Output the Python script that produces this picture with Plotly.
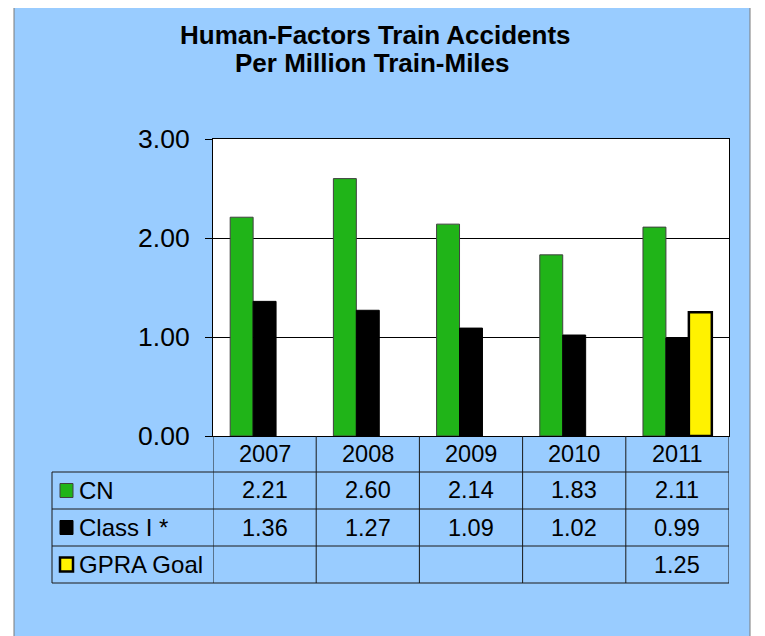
import plotly.graph_objects as go

# ---- data ----
years = ["2007", "2008", "2009", "2010", "2011"]
cn = [2.21, 2.60, 2.14, 1.83, 2.11]
class1 = [1.36, 1.27, 1.09, 1.02, 0.99]
gpra = [None, None, None, None, 1.25]
series_names = ["CN", "Class I *", "GPRA Goal"]
y_ticks = [0, 1, 2, 3]
title_lines = ["Human-Factors Train Accidents", "Per Million Train-Miles"]

# ---- style ----
W, H = 765, 636
OFF = 8  # page body margin
SL, SR, ST, SB = 213, 729, 139, 436   # plot area in screen pixels
L, R, T, B = SL - OFF, SR - OFF, ST - OFF, SB - OFF
GREEN, BLACK, YELLOW = "#20B418", "#000000", "#FFF200"
BLUE = "#99CCFF"
FONT = "Liberation Sans, Arial, sans-serif"

def px_x(p):
    return (p - SL) / (SR - SL)

def px_y(p):
    return (SB - p) / (SB - ST)

fig = go.Figure()
fig.add_bar(x=years, y=cn, name=series_names[0], marker=dict(color=GREEN, line=dict(color="#404040", width=1)))
fig.add_bar(x=years, y=class1, name=series_names[1], marker=dict(color=BLACK, line=dict(color="#000000", width=1)))
fig.add_bar(x=years, y=gpra, name=series_names[2], marker=dict(color=YELLOW, line=dict(color="#000000", width=2.5)))

shapes = []
# blue frame background
shapes.append(dict(type="rect", xref="paper", yref="paper", x0=px_x(14), x1=px_x(750), y0=px_y(700), y1=px_y(4),
                   fillcolor=BLUE, line=dict(color="#7a7a7a", width=1), layer="below"))
# white plot area
shapes.append(dict(type="rect", xref="paper", yref="paper", x0=0, x1=1, y0=0, y1=1,
                   fillcolor="white", line=dict(width=0), layer="below"))

# table geometry (screen pixels)
row_lines = [472, 509, 546, 583]
table_left = 52
line_col = "#1a1a1a"
for rl in row_lines:
    shapes.append(dict(type="line", xref="paper", yref="paper", x0=px_x(table_left), x1=1,
                       y0=px_y(rl), y1=px_y(rl), line=dict(color=line_col, width=1)))
shapes.append(dict(type="line", xref="paper", yref="paper", x0=px_x(table_left), x1=px_x(table_left),
                   y0=px_y(row_lines[0]), y1=px_y(row_lines[-1]), line=dict(color=line_col, width=1)))
for i in range(len(years) + 1):
    shapes.append(dict(type="line", xref="x", yref="paper", x0=i - 0.5, x1=i - 0.5,
                       y0=0, y1=px_y(row_lines[-1]), line=dict(color=line_col, width=1)))

annotations = []
tfont_title = dict(family=FONT, size=26, color="black")
annotations.append(dict(text="<b>%s</b>" % title_lines[0], xref="paper", yref="paper", x=px_x(375), y=px_y(35),
                        xanchor="center", yanchor="middle", showarrow=False, font=tfont_title))
annotations.append(dict(text="<b>%s</b>" % title_lines[1], xref="paper", yref="paper", x=px_x(372), y=px_y(63),
                        xanchor="center", yanchor="middle", showarrow=False, font=tfont_title))

tfont = dict(family=FONT, size=23.5, color="black")
for i, yr in enumerate(years):
    annotations.append(dict(text=yr, xref="x", yref="paper", x=i, y=px_y(454), xanchor="center",
                            yanchor="middle", showarrow=False, font=tfont))

rows = [cn, class1, gpra]
colors = [GREEN, BLACK, YELLOW]
borders = [("#404040", 1), ("#000000", 1), ("#000000", 2.5)]
for r, (vals, name) in enumerate(zip(rows, series_names)):
    top, bot = row_lines[r], row_lines[r + 1]
    cy = (top + bot) / 2
    shapes.append(dict(type="rect", xref="paper", yref="paper", x0=px_x(60), x1=px_x(73),
                       y0=px_y(cy + 7), y1=px_y(cy - 7), fillcolor=colors[r],
                       line=dict(color=borders[r][0], width=borders[r][1])))
    annotations.append(dict(text=name, xref="paper", yref="paper", x=px_x(77), y=px_y(cy), xanchor="left",
                            yanchor="middle", showarrow=False, font=dict(family=FONT, size=24, color="black")))
    for i, v in enumerate(vals):
        if v is None:
            continue
        annotations.append(dict(text="%.2f" % v, xref="x", yref="paper", x=i, y=px_y(cy), xanchor="center",
                                yanchor="middle", showarrow=False, font=tfont))

fig.update_layout(
    width=W, height=H,
    margin=dict(l=L, r=W - R, t=T, b=H - B, pad=0),
    paper_bgcolor="white", plot_bgcolor="white",
    barmode="group", bargap=0.333, bargroupgap=0,
    showlegend=False,
    font=dict(family=FONT, color="black"),
    xaxis=dict(type="category", range=[-0.5, len(years) - 0.5], showticklabels=False, ticks="",
               showline=True, linecolor="black", linewidth=1, mirror=True, showgrid=False, zeroline=False),
    yaxis=dict(range=[0, 3], tickvals=y_ticks, ticktext=["%.2f" % v for v in y_ticks], ticks="outside",
               ticklen=7, tickcolor="black", tickwidth=1, showline=True, linecolor="black", linewidth=1,
               mirror=True, showgrid=True, gridcolor="black", gridwidth=1, zeroline=False,
               tickfont=dict(family=FONT, size=26.5, color="black"), ticklabelstandoff=10),
    shapes=shapes, annotations=annotations,
)

fig.write_html("out.html")
